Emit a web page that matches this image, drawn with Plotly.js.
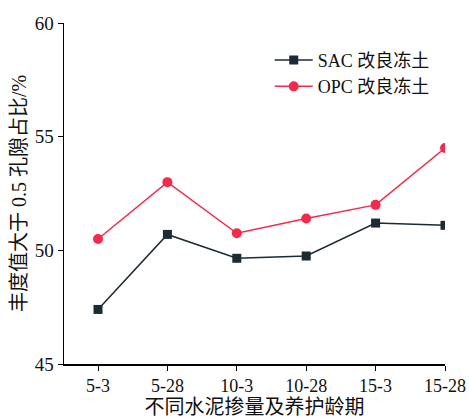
<!DOCTYPE html>
<html>
<head>
<meta charset="utf-8">
<script src="https://cdn.plot.ly/plotly-3.0.1.min.js"></script>
<style>html,body{margin:0;padding:0;background:#fff;}#chart{width:469px;height:419px;}</style>
</head>
<body>
<div id="chart"></div>
<script>
// Cement dosage (%) - curing age (d)
const categories = ['5-3', '5-28', '10-3', '10-28', '15-3', '15-28'];
// Share of pores with fractal value > 0.5 (%)
const sacValues = [47.4, 50.7, 49.65, 49.75, 51.2, 51.1];
const opcValues = [50.5, 53.0, 50.75, 51.4, 52.0, 54.5];
const seriesNames = ['SAC 改良冻土', 'OPC 改良冻土'];
const yTicks = [45, 50, 55, 60];

const FONT = '"Liberation Serif", "Times New Roman", "Noto Sans CJK SC", serif';

const traces = [
  {
    x: categories, y: sacValues, name: seriesNames[0],
    type: 'scatter', mode: 'lines+markers',
    line: {color: '#1b2a33', width: 1.5},
    marker: {symbol: 'square', size: 9, color: '#1b2a33'}
  },
  {
    x: categories, y: opcValues, name: seriesNames[1],
    type: 'scatter', mode: 'lines+markers',
    line: {color: '#f22a4c', width: 1.5},
    marker: {symbol: 'circle', size: 10, color: '#f22a4c'}
  }
];

const layout = {
  width: 469, height: 419,
  margin: {l: 64, r: 24, t: 23, b: 55},
  paper_bgcolor: '#fff', plot_bgcolor: '#fff',
  font: {family: FONT, size: 18, color: '#111'},
  showlegend: true,
  legend: {
    x: 0.54, y: 0.945, xanchor: 'left', yanchor: 'top',
    bgcolor: 'rgba(0,0,0,0)', font: {family: FONT, size: 18, color: '#111'},
    tracegroupgap: 0, itemwidth: 38
  },
  xaxis: {
    type: 'category', range: [-0.49, 5],
    showline: true, linecolor: '#000', linewidth: 1.5,
    ticks: 'outside', ticklen: 5, tickwidth: 1, tickcolor: '#000',
    showgrid: false, zeroline: false,
    tickfont: {family: FONT, size: 18, color: '#111'},
    title: {text: '不同水泥掺量及养护龄期', font: {family: FONT, size: 20, color: '#111'}, standoff: 3}
  },
  yaxis: {
    range: [45, 60], tickvals: yTicks,
    showline: true, linecolor: '#000', linewidth: 1.5,
    ticks: 'outside', ticklen: 5, tickwidth: 1, tickcolor: '#000',
    showgrid: false, zeroline: false,
    tickfont: {family: FONT, size: 19, color: '#111'},
    title: {text: '丰度值大于 0.5 孔隙占比/%', font: {family: FONT, size: 20, color: '#111'}, standoff: 2}
  }
};

Plotly.newPlot('chart', traces, layout, {displayModeBar: false, staticPlot: true});
</script>
</body>
</html>
